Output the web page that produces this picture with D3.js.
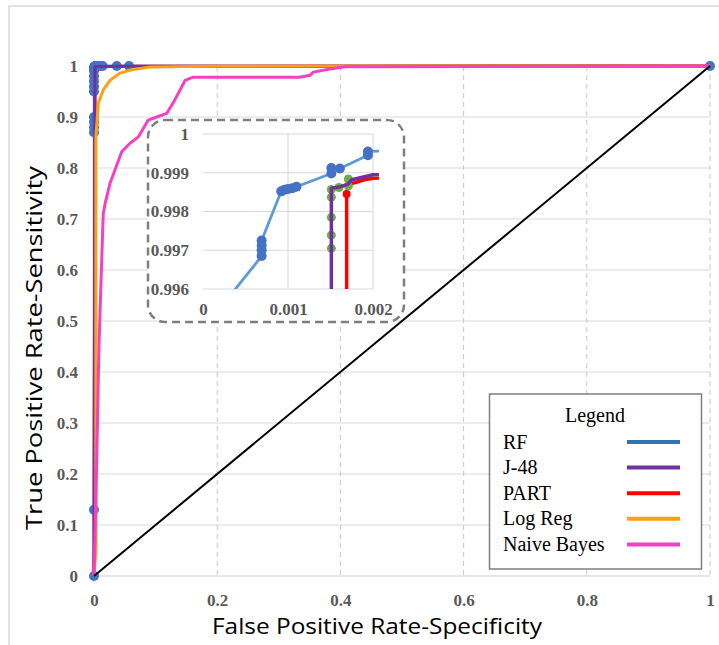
<!DOCTYPE html>
<html>
<head>
<meta charset="utf-8">
<script src="https://cdn.jsdelivr.net/npm/d3@7/dist/d3.min.js"></script>
<style>
  html, body { margin: 0; padding: 0; background: #fff; }
  svg { display: block; }
  .tick text { font-family: "Liberation Serif", "Times New Roman", serif; font-weight: bold; font-size: 17px; fill: #595959; }
</style>
</head>
<body>
<svg id="chart" width="719" height="645"></svg>
<script>
// ROC curves: [false positive rate, true positive rate]
const rfPoints = [
  [0, 0], [0, 0.13], [0, 0.87], [0, 0.88], [0, 0.89], [0, 0.9],
  [0, 0.95], [0, 0.96], [0, 0.97], [0, 0.98], [0, 0.99], [0.0002, 0.9955],
  [0.00069, 0.99685], [0.00069, 0.997], [0.00069, 0.99712], [0.00069, 0.99725],
  [0.00092, 0.99852], [0.00096, 0.99856], [0.001, 0.99858], [0.00105, 0.9986], [0.0011, 0.99864],
  [0.00151, 0.99898], [0.00151, 0.99912], [0.00161, 0.99911],
  [0.00194, 0.99945], [0.00194, 0.99955],
  [0.003, 0.9996], [0.006, 0.9997], [0.01, 0.9998], [0.014, 0.9999],
  [0.037, 1], [0.057, 1], [1, 1]
];
const j48Points = [
  [0, 0], [0.00151, 0.99], [0.00151, 0.9986], [0.0016, 0.99863], [0.0017, 0.9987],
  [0.00175, 0.99882], [0.002, 0.99895], [0.005, 0.9992], [0.05, 0.9996], [1, 1]
];
const j48Markers = [
  [0.00151, 0.99705], [0.00151, 0.99739], [0.00151, 0.99785], [0.00151, 0.99837],
  [0.00151, 0.99857], [0.0016, 0.99862], [0.00171, 0.99866], [0.00171, 0.99884]
];
const partPoints = [
  [0, 0], [0.00169, 0.99], [0.00169, 0.99845], [0.0017, 0.9986], [0.00175, 0.99872],
  [0.0019, 0.99882], [0.002, 0.99886], [0.006, 0.9992], [0.06, 0.9996], [1, 1]
];
const partMarkers = [[0.00169, 0.99845]];
const logRegPoints = [
  [0, 0], [0.003, 0.05], [0.003, 0.5], [0.003, 0.86], [0.007, 0.927], [0.015, 0.953],
  [0.026, 0.972], [0.042, 0.986], [0.063, 0.993], [0.091, 0.998], [0.2, 0.9995],
  [0.4, 1], [1, 1]
];
const naiveBayesPoints = [
  [0, 0], [0.004, 0.2], [0.008, 0.45], [0.012, 0.6], [0.015, 0.71], [0.018, 0.73],
  [0.026, 0.77], [0.034, 0.796], [0.045, 0.832], [0.058, 0.848], [0.072, 0.861],
  [0.088, 0.894], [0.102, 0.9], [0.118, 0.907], [0.131, 0.933], [0.148, 0.972],
  [0.161, 0.978], [0.334, 0.978], [0.351, 0.982], [0.356, 0.988], [0.383, 0.994],
  [0.407, 0.9986], [1, 1]
];
const chancePoints = [[0, 0], [1, 1]];

const xTicks = [0, 0.2, 0.4, 0.6, 0.8, 1];
const yTicks = [0, 0.1, 0.2, 0.3, 0.4, 0.5, 0.6, 0.7, 0.8, 0.9, 1];
const insetXTicks = [0, 0.001, 0.002];
const insetYTicks = [0.996, 0.997, 0.998, 0.999, 1];

const legendNames = ["RF", "J-48", "PART", "Log Reg", "Naive Bayes"];
const legendColors = ["#2E75B6", "#7030A0", "#FF0000", "#FFA012", "#F540C4"];

const svg = d3.select("#chart");
const serifFont = "'Liberation Serif', 'Times New Roman', serif";
const titleFont = "'Open Sans', 'Noto Sans', sans-serif";

// outer frame
svg.append("rect").attr("x", 9).attr("y", 6).attr("width", 730).attr("height", 660)
  .attr("fill", "none").attr("stroke", "#d9d9d9").attr("stroke-width", 1.5);

const x = d3.scaleLinear().domain([0, 1]).range([94, 710]);
const y = d3.scaleLinear().domain([0, 1]).range([576, 66]);

// horizontal gridlines
svg.append("g").selectAll("line").data(yTicks.filter(d => d > 0)).join("line")
  .attr("x1", x(0)).attr("x2", x(1)).attr("y1", d => y(d)).attr("y2", d => y(d))
  .attr("stroke", "#d9d9d9").attr("stroke-width", 1);
// vertical dashed gridlines
svg.append("g").selectAll("line").data(xTicks.filter(d => d > 0)).join("line")
  .attr("x1", d => x(d)).attr("x2", d => x(d)).attr("y1", y(1)).attr("y2", y(0))
  .attr("stroke", "#c8c8c8").attr("stroke-width", 1).attr("stroke-dasharray", "5,4");
// x axis baseline
svg.append("line").attr("x1", x(0)).attr("x2", x(1)).attr("y1", y(0)).attr("y2", y(0))
  .attr("stroke", "#d0d0d0").attr("stroke-width", 1.2);

// tick labels through d3 axes
const fmt = d => d3.format("~g")(d);
const xAxis = svg.append("g").attr("transform", `translate(0,${y(0)})`)
  .call(d3.axisBottom(x).tickValues(xTicks).tickFormat(fmt).tickSize(0).tickPadding(18));
const yAxis = svg.append("g").attr("transform", `translate(${x(0) - 16},0)`)
  .call(d3.axisLeft(y).tickValues(yTicks).tickFormat(fmt).tickSize(0).tickPadding(0));
[xAxis, yAxis].forEach(g => {
  g.select(".domain").remove();
  g.attr("font-family", null).attr("font-size", null);
});

const line = (sx, sy) => d3.line().x(d => sx(d[0])).y(d => sy(d[1]));
const mainLine = line(x, y);

function drawSeries(g, lineGen, sx, sy, widths) {
  g.append("path").attr("d", lineGen(rfPoints)).attr("fill", "none")
    .attr("stroke", "#5B9BD5").attr("stroke-width", widths.rf).attr("stroke-linejoin", "round");
  g.append("path").attr("d", lineGen(partPoints)).attr("fill", "none")
    .attr("stroke", "#FF0000").attr("stroke-width", widths.main).attr("stroke-linejoin", "round");
  g.append("g").selectAll("circle").data(partMarkers).join("circle")
    .attr("cx", d => sx(d[0])).attr("cy", d => sy(d[1])).attr("r", 4).attr("fill", "#FF0000");
  g.append("g").selectAll("circle").data(j48Markers).join("circle")
    .attr("cx", d => sx(d[0])).attr("cy", d => sy(d[1])).attr("r", 4.5).attr("fill", "#70AD47");
  g.append("g").selectAll("circle").data(rfPoints).join("circle")
    .attr("cx", d => sx(d[0])).attr("cy", d => sy(d[1])).attr("r", 5).attr("fill", "#4472C4");
  g.append("path").attr("d", lineGen(j48Points)).attr("fill", "none")
    .attr("stroke", "#7030A0").attr("stroke-width", widths.main).attr("stroke-linejoin", "round");
  g.append("path").attr("d", lineGen(logRegPoints)).attr("fill", "none")
    .attr("stroke", "#FFA012").attr("stroke-width", widths.main).attr("stroke-linejoin", "round");
  g.append("path").attr("d", lineGen(naiveBayesPoints)).attr("fill", "none")
    .attr("stroke", "#F540C4").attr("stroke-width", widths.main).attr("stroke-linejoin", "round");
  g.append("path").attr("d", lineGen(chancePoints)).attr("fill", "none")
    .attr("stroke", "#000").attr("stroke-width", 2);
}

drawSeries(svg.append("g"), mainLine, x, y, { rf: 2.5, main: 3 });

// axis titles
svg.append("text").attr("x", 377).attr("y", 634).attr("text-anchor", "middle")
  .attr("font-family", titleFont).attr("font-size", 21).attr("fill", "#000")
  .attr("textLength", 330).attr("lengthAdjust", "spacingAndGlyphs")
  .text("False Positive  Rate-Specificity");
svg.append("text").attr("transform", "translate(42,348) rotate(-90)").attr("text-anchor", "middle")
  .attr("font-family", titleFont).attr("font-size", 22).attr("fill", "#000")
  .attr("textLength", 364).attr("lengthAdjust", "spacingAndGlyphs")
  .text("True Positive Rate-Sensitivity");

// ---- zoomed inset of the top-left corner ----
const xi = d3.scaleLinear().domain([0, 0.002]).range([203, 373]);
const yi = d3.scaleLinear().domain([0.996, 1]).range([289, 134]);
const inset = svg.append("g");
inset.append("rect").attr("x", 148).attr("y", 120).attr("width", 256).attr("height", 202)
  .attr("rx", 17).attr("ry", 17).attr("fill", "#fff")
  .attr("stroke", "#7f7f7f").attr("stroke-width", 2.5).attr("stroke-dasharray", "8,5");
inset.append("g").selectAll("line").data(insetYTicks).join("line")
  .attr("x1", xi(0)).attr("x2", xi(0.002)).attr("y1", d => yi(d)).attr("y2", d => yi(d))
  .attr("stroke", "#d9d9d9").attr("stroke-width", 1);
inset.append("g").selectAll("line").data(insetXTicks.filter(d => d > 0)).join("line")
  .attr("x1", d => xi(d)).attr("x2", d => xi(d)).attr("y1", yi(1)).attr("y2", yi(0.996))
  .attr("stroke", "#d9d9d9").attr("stroke-width", 1);

const ixAxis = inset.append("g").attr("transform", `translate(0,${yi(0.996)})`)
  .call(d3.axisBottom(xi).tickValues(insetXTicks).tickFormat(fmt).tickSize(0).tickPadding(14));
const iyAxis = inset.append("g").attr("transform", `translate(${xi(0) - 14},0)`)
  .call(d3.axisLeft(yi).tickValues(insetYTicks).tickFormat(fmt).tickSize(0).tickPadding(0));
[ixAxis, iyAxis].forEach(g => {
  g.select(".domain").remove();
  g.attr("font-family", null).attr("font-size", null);
});

svg.append("defs").append("clipPath").attr("id", "insetClip").append("rect")
  .attr("x", xi(0)).attr("y", yi(1) - 6).attr("width", xi(0.002) - xi(0) + 6)
  .attr("height", yi(0.996) - yi(1) + 6);
drawSeries(inset.append("g").attr("clip-path", "url(#insetClip)"), line(xi, yi), xi, yi,
  { rf: 2.8, main: 3.5 });

// ---- legend ----
const legend = svg.append("g");
legend.append("rect").attr("x", 489.5).attr("y", 394).attr("width", 212).attr("height", 175)
  .attr("fill", "#fff").attr("stroke", "#7f7f7f").attr("stroke-width", 1.5);
legend.append("text").attr("x", 595).attr("y", 422).attr("text-anchor", "middle")
  .attr("font-family", serifFont).attr("font-size", 20).attr("fill", "#000").text("Legend");
const rows = legend.selectAll("g.row").data(legendNames).join("g").attr("class", "row")
  .attr("transform", (d, i) => `translate(0,${442 + i * 25.6})`);
rows.append("text").attr("x", 503).attr("y", 6.5)
  .attr("font-family", serifFont).attr("font-size", 20).attr("fill", "#000").text(d => d);
rows.append("line").attr("x1", 627).attr("x2", 680).attr("y1", 0).attr("y2", 0)
  .attr("stroke", (d, i) => legendColors[i]).attr("stroke-width", 4);
</script>
</body>
</html>
